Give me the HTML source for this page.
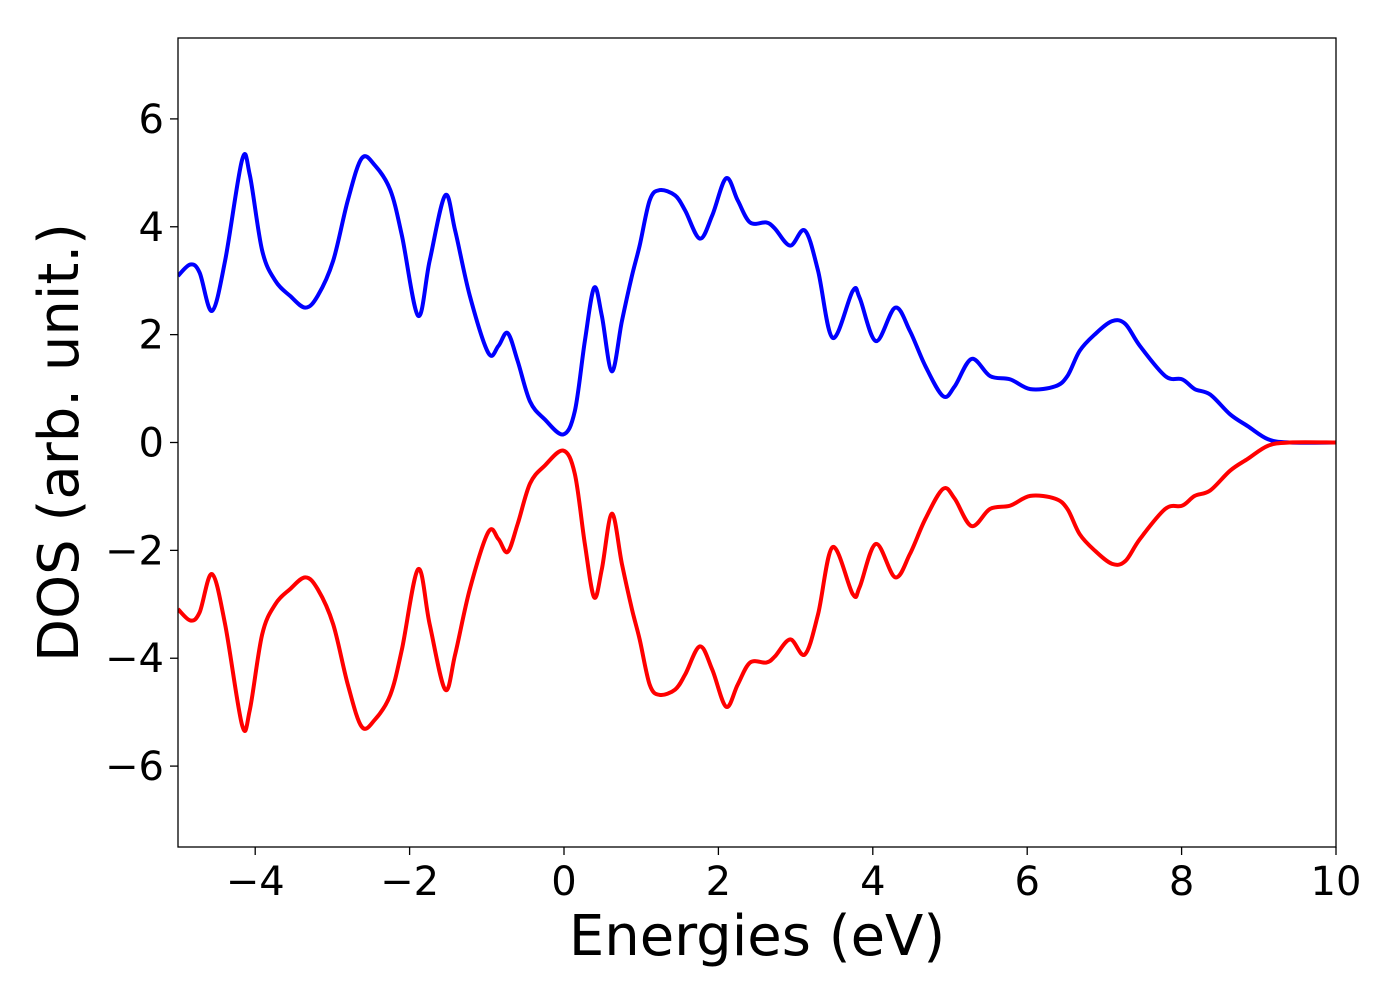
<!DOCTYPE html>
<html><head><meta charset="utf-8"><style>
html,body{margin:0;padding:0;background:#fff;}
svg text{font-family:"DejaVu Sans","Liberation Sans",sans-serif;fill:#000;}
</style></head><body>
<svg id="chart" width="1400" height="1000" xmlns="http://www.w3.org/2000/svg"></svg>
<script>
const energies=[-5,-4.84,-4.72,-4.56,-4.39,-4.17,-4.07,-3.91,-3.74,-3.55,-3.35,-3.19,-2.99,-2.80,-2.62,-2.45,-2.25,-2.10,-1.89,-1.74,-1.54,-1.41,-1.22,-0.98,-0.85,-0.73,-0.60,-0.44,-0.25,-0.01,0.14,0.27,0.39,0.49,0.62,0.75,0.88,0.98,1.11,1.24,1.44,1.57,1.76,1.92,2.10,2.25,2.41,2.62,2.73,2.93,3.12,3.29,3.48,3.74,3.83,4.04,4.29,4.48,4.68,4.91,5.06,5.28,5.52,5.78,6.04,6.36,6.52,6.68,6.88,7.10,7.27,7.46,7.79,8.01,8.17,8.37,8.63,8.86,9.12,9.40,10];
const dosUp=[3.09,3.3,3.15,2.44,3.37,5.24,4.96,3.56,3.0,2.72,2.5,2.72,3.37,4.49,5.27,5.14,4.68,3.84,2.35,3.37,4.58,3.93,2.72,1.66,1.79,2.03,1.51,0.76,0.43,0.15,0.58,1.88,2.87,2.35,1.32,2.25,3.09,3.65,4.49,4.68,4.58,4.30,3.78,4.21,4.90,4.49,4.08,4.08,3.97,3.65,3.93,3.19,1.94,2.81,2.68,1.88,2.50,2.07,1.42,0.86,1.04,1.55,1.23,1.17,0.99,1.04,1.23,1.70,2.01,2.25,2.20,1.79,1.23,1.17,0.99,0.89,0.52,0.30,0.06,0,0];
const dosDown=dosUp.map(v=>-v);
const xTicks=[-4,-2,0,2,4,6,8,10];
const yTicks=[-6,-4,-2,0,2,4,6];
const xMin=-5,xMax=10,yMin=-7.5,yMax=7.5;
const L=178,R=1336,T=38,B=847;
const sx=v=>L+(v-xMin)/(xMax-xMin)*(R-L);
const sy=v=>B-(v-yMin)/(yMax-yMin)*(B-T);
const svg=document.getElementById('chart');
const NS='http://www.w3.org/2000/svg';
function mk(tag,attrs){const e=document.createElementNS(NS,tag);for(const k in attrs)e.setAttribute(k,attrs[k]);svg.appendChild(e);return e;}
function pathFor(xs,ys){
  const p=xs.map((x,i)=>[sx(x),sy(ys[i])]);
  let d='M'+p[0][0]+','+p[0][1];
  for(let i=0;i<p.length-1;i++){
    const p0=p[Math.max(0,i-1)],p1=p[i],p2=p[i+1],p3=p[Math.min(p.length-1,i+2)];
    const c1x=p1[0]+(p2[0]-p0[0])/6,c1y=p1[1]+(p2[1]-p0[1])/6;
    const c2x=p2[0]-(p3[0]-p1[0])/6,c2y=p2[1]-(p3[1]-p1[1])/6;
    d+=' C'+c1x+','+c1y+' '+c2x+','+c2y+' '+p2[0]+','+p2[1];
  }
  return d;
}
const defs=mk('clipPath',{id:'clip'});
const cr=document.createElementNS(NS,'rect');cr.setAttribute('x',L);cr.setAttribute('y',T);cr.setAttribute('width',R-L);cr.setAttribute('height',B-T);defs.appendChild(cr);
const up=mk('path',{d:pathFor(energies,dosUp),fill:'none',stroke:'#0000ff','stroke-width':4,'clip-path':'url(#clip)'});


const dn=mk('path',{d:pathFor(energies,dosDown),fill:'none',stroke:'#ff0000','stroke-width':4,'clip-path':'url(#clip)'});


const frame=mk('rect',{x:L,y:T,width:R-L,height:B-T,fill:'none',stroke:'#000','stroke-width':1.3});


xTicks.forEach(t=>{
  const tk=mk('line',{x1:sx(t),x2:sx(t),y1:B,y2:B+8,stroke:'#000','stroke-width':1.3});
  
  
  const tx=mk('text',{x:sx(t),y:B+48,'text-anchor':'middle','font-size':40});
  tx.textContent=(t<0?'\u2212'+(-t):t);
  
  
});
yTicks.forEach(t=>{
  const tk=mk('line',{x1:L-8,x2:L,y1:sy(t),y2:sy(t),stroke:'#000','stroke-width':1.3});
  
  
  const tx=mk('text',{x:L-14,y:sy(t)+14,'text-anchor':'end','font-size':40});
  tx.textContent=(t<0?'\u2212'+(-t):t);
  
  
});
const xt=mk('text',{x:(L+R)/2,y:955,'text-anchor':'middle','font-size':56});
xt.textContent='Energies (eV)';


const yt=mk('text',{x:0,y:0,'text-anchor':'middle','font-size':56,transform:'translate(78,'+((T+B)/2)+') rotate(-90)'});
yt.textContent='DOS (arb. unit.)';


</script>
</body></html>
